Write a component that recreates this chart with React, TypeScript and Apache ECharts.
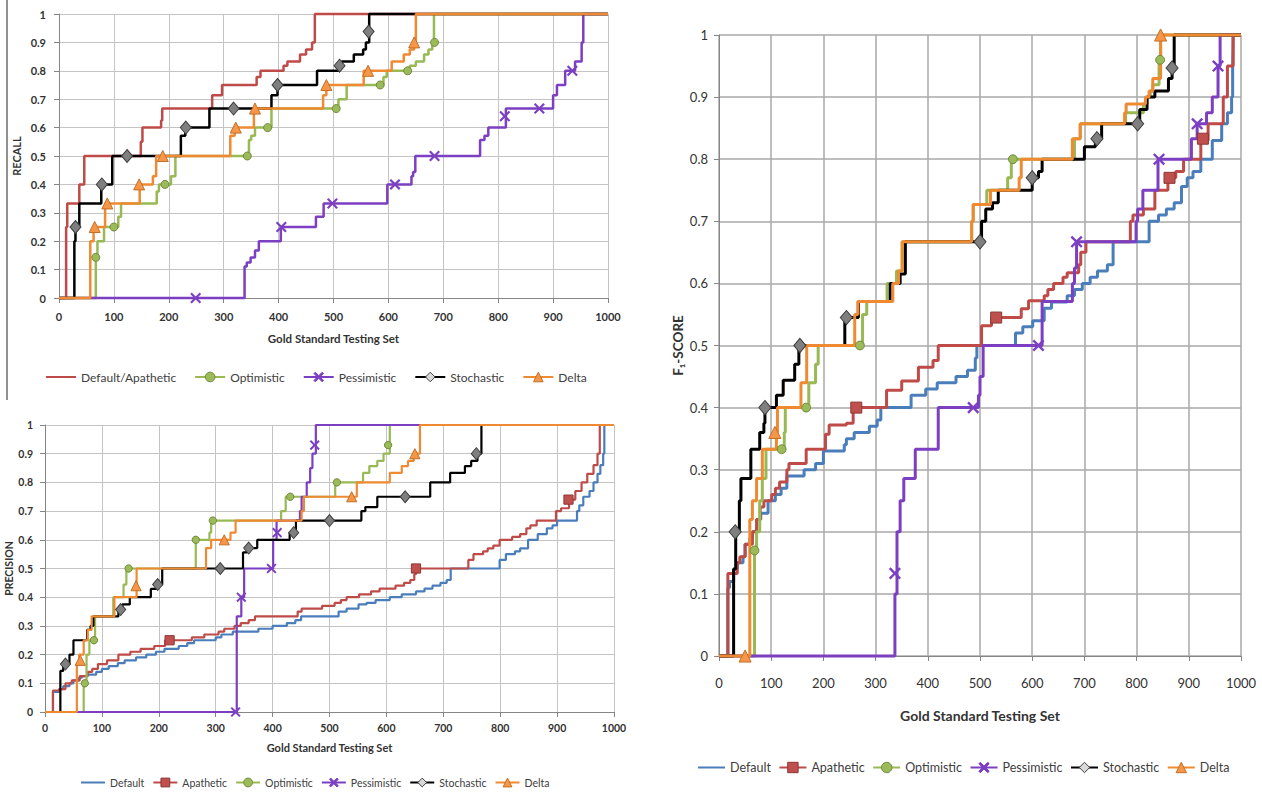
import React, { useEffect, useRef } from "react";
import * as echarts from "echarts";

type Pt = [number, number];

// ---- axes ----
const X_MIN = 0;
const X_MAX = 1000;
const X_STEP = 100;
const Y_MIN = 0;
const Y_MAX = 1;
const Y_STEP = 0.1;

const xAxisTitle = "Gold Standard Testing Set";
const recallTitle = "RECALL";
const precisionTitle = "PRECISION";
const f1Title = "F\u2081-SCORE";

const recallLegend = ["Default/Apathetic", "Optimistic", "Pessimistic", "Stochastic", "Delta"];
const fullLegend = ["Default", "Apathetic", "Optimistic", "Pessimistic", "Stochastic", "Delta"];

// ---- RECALL ----
const recallDefaultApathetic: Pt[] = [[0,0],[13,0.25],[15,0.333],[37,0.4],[46,0.5],[149,0.55],[152,0.6],[186,0.625],[188,0.667],[279,0.714],[297,0.75],[360,0.778],[367,0.8],[409,0.818],[416,0.833],[439,0.857],[450,0.875],[461,0.9],[466,1],[1000,1]];
const recallOptimistic: Pt[] = [[0,0],[67,0.143],[70,0.2],[82,0.25],[108,0.286],[113,0.333],[178,0.375],[182,0.4],[204,0.429],[212,0.5],[346,0.556],[350,0.571],[357,0.6],[387,0.667],[509,0.7],[524,0.75],[591,0.778],[597,0.8],[639,0.818],[650,0.833],[665,0.857],[673,0.875],[680,0.9],[683,1],[1000,1]];
const recallOptimisticMarks: Pt[] = [[67,0.143],[100,0.25],[193,0.4],[343,0.5],[380,0.6],[505,0.667],[585,0.75],[635,0.8],[684,0.9]];
const recallPessimistic: Pt[] = [[0,0],[338,0.111],[342,0.125],[349,0.143],[357,0.167],[364,0.2],[404,0.25],[468,0.286],[482,0.333],[598,0.4],[642,0.429],[645,0.444],[649,0.5],[767,0.556],[775,0.571],[782,0.6],[814,0.667],[900,0.714],[907,0.75],[922,0.8],[940,0.833],[952,0.9],[955,1],[1000,1]];
const recallPessimisticMarks: Pt[] = [[249,0],[405,0.25],[498,0.333],[612,0.4],[684,0.5],[812,0.64],[875,0.667],[935,0.8]];
const recallStochastic: Pt[] = [[0,0],[28,0.2],[30,0.25],[37,0.333],[77,0.4],[97,0.5],[222,0.571],[230,0.6],[274,0.667],[387,0.714],[398,0.75],[470,0.8],[510,0.818],[515,0.833],[537,0.857],[554,0.875],[559,0.9],[565,1],[1000,1]];
const recallStochasticMarks: Pt[] = [[30,0.25],[78,0.4],[124,0.5],[231,0.6],[318,0.667],[398,0.75],[511,0.818],[564,0.938]];
const recallDelta: Pt[] = [[0,0],[57,0.2],[63,0.25],[84,0.333],[147,0.4],[171,0.429],[177,0.5],[312,0.571],[320,0.6],[355,0.667],[481,0.714],[487,0.75],[555,0.8],[606,0.833],[628,0.857],[639,0.875],[647,0.9],[650,1],[1000,1]];
const recallDeltaMarks: Pt[] = [[65,0.25],[88,0.333],[146,0.4],[189,0.5],[322,0.6],[357,0.667],[487,0.75],[563,0.8],[647,0.9]];

// ---- PRECISION ----
const precisionDefault: Pt[] = [[0,0],[14,0.07],[25,0.08],[32,0.09],[43,0.1],[50,0.11],[60,0.12],[65,0.125],[75,0.13],[90,0.14],[100,0.15],[112,0.16],[128,0.17],[140,0.18],[160,0.19],[178,0.2],[195,0.21],[210,0.22],[235,0.23],[250,0.24],[262,0.25],[300,0.26],[310,0.27],[330,0.28],[375,0.29],[400,0.3],[425,0.31],[440,0.32],[450,0.333],[516,0.35],[530,0.36],[551,0.375],[565,0.38],[581,0.39],[606,0.4],[627,0.41],[652,0.42],[667,0.43],[681,0.44],[695,0.45],[706,0.46],[713,0.5],[799,0.53],[810,0.55],[826,0.56],[835,0.57],[849,0.6],[866,0.62],[882,0.64],[892,0.65],[900,0.667],[935,0.7],[939,0.72],[946,0.75],[957,0.77],[964,0.8],[971,0.83],[976,0.86],[981,0.9],[983,1],[1000,1]];
const precisionApathetic: Pt[] = [[0,0],[14,0.075],[25,0.08],[36,0.1],[47,0.11],[61,0.125],[75,0.14],[83,0.15],[93,0.167],[109,0.18],[129,0.2],[150,0.21],[168,0.22],[192,0.23],[211,0.25],[258,0.26],[280,0.27],[305,0.28],[315,0.29],[333,0.3],[344,0.31],[358,0.32],[369,0.333],[444,0.35],[451,0.36],[487,0.37],[509,0.38],[520,0.39],[530,0.4],[552,0.41],[573,0.42],[588,0.43],[616,0.44],[631,0.45],[642,0.46],[649,0.48],[652,0.5],[744,0.53],[753,0.55],[770,0.56],[778,0.57],[788,0.58],[799,0.6],[821,0.61],[835,0.62],[846,0.64],[853,0.65],[864,0.667],[898,0.7],[907,0.71],[921,0.74],[932,0.77],[943,0.8],[953,0.83],[964,0.86],[971,0.9],[975,1],[1000,1]];
const precisionApatheticMarks: Pt[] = [[219,0.25],[652,0.5],[920,0.74]];
const precisionOptimistic: Pt[] = [[0,0],[68,0.1],[73,0.2],[78,0.25],[88,0.333],[120,0.4],[138,0.444],[143,0.5],[265,0.6],[289,0.625],[292,0.667],[415,0.7],[423,0.75],[510,0.8],[559,0.833],[570,0.857],[584,0.875],[595,0.9],[606,1],[1000,1]];
const precisionOptimisticMarks: Pt[] = [[70,0.1],[86,0.25],[147,0.5],[265,0.6],[295,0.667],[431,0.75],[513,0.8],[603,0.93]];
const precisionPessimistic: Pt[] = [[0,0],[337,0.333],[345,0.4],[350,0.5],[401,0.6],[407,0.667],[448,0.7],[451,0.75],[460,0.8],[466,0.85],[470,0.9],[476,1],[1000,1]];
const precisionPessimisticMarks: Pt[] = [[335,0],[345,0.4],[398,0.5],[408,0.625],[474,0.93]];
const precisionStochastic: Pt[] = [[0,0],[27,0.143],[32,0.167],[43,0.2],[50,0.25],[74,0.286],[80,0.3],[85,0.333],[129,0.357],[136,0.375],[149,0.4],[186,0.429],[197,0.444],[206,0.5],[348,0.556],[355,0.571],[373,0.6],[430,0.625],[441,0.667],[556,0.7],[563,0.714],[584,0.75],[677,0.8],[712,0.833],[738,0.857],[749,0.875],[760,0.9],[767,1],[1000,1]];
const precisionStochasticMarks: Pt[] = [[36,0.167],[133,0.357],[198,0.444],[308,0.5],[358,0.571],[437,0.625],[500,0.667],[633,0.75],[758,0.9]];
const precisionDelta: Pt[] = [[0,0],[56,0.167],[60,0.2],[68,0.25],[75,0.286],[82,0.333],[122,0.4],[161,0.5],[283,0.571],[292,0.6],[326,0.625],[335,0.667],[451,0.7],[455,0.75],[548,0.8],[606,0.833],[627,0.857],[638,0.875],[648,0.9],[659,1],[1000,1]];
const precisionDeltaMarks: Pt[] = [[62,0.18],[160,0.44],[315,0.6],[539,0.75],[650,0.9]];

// ---- F1-SCORE ----
const f1Default: Pt[] = [[0,0],[17,0.11],[20,0.12],[28,0.14],[35,0.15],[46,0.16],[50,0.18],[59,0.19],[64,0.2],[72,0.22],[80,0.23],[94,0.25],[108,0.26],[119,0.27],[130,0.29],[163,0.3],[185,0.31],[200,0.33],[240,0.34],[244,0.35],[259,0.36],[288,0.37],[303,0.38],[310,0.4],[368,0.42],[396,0.43],[418,0.44],[454,0.45],[476,0.46],[491,0.48],[494,0.5],[568,0.52],[582,0.53],[601,0.54],[623,0.56],[637,0.57],[667,0.58],[681,0.59],[696,0.6],[711,0.61],[725,0.62],[744,0.63],[755,0.667],[824,0.7],[842,0.71],[857,0.72],[872,0.73],[886,0.756],[897,0.77],[908,0.78],[923,0.8],[945,0.83],[963,0.857],[974,0.875],[982,0.9],[984,0.95],[985,1],[1000,1]];
const f1Apathetic: Pt[] = [[0,0],[17,0.133],[35,0.15],[40,0.16],[50,0.18],[64,0.2],[72,0.22],[79,0.24],[86,0.25],[101,0.26],[108,0.27],[116,0.28],[130,0.3],[134,0.31],[167,0.333],[204,0.357],[211,0.372],[244,0.375],[257,0.4],[321,0.428],[350,0.443],[382,0.465],[410,0.476],[420,0.5],[503,0.532],[522,0.545],[579,0.559],[593,0.572],[623,0.58],[630,0.59],[641,0.6],[659,0.61],[667,0.617],[689,0.63],[693,0.65],[703,0.667],[788,0.7],[793,0.71],[813,0.72],[835,0.75],[860,0.77],[875,0.78],[890,0.8],[923,0.83],[937,0.857],[966,0.9],[974,0.95],[985,1],[1000,1]];
const f1ApatheticMarks: Pt[] = [[263,0.4],[531,0.545],[863,0.77],[927,0.833]];
const f1Optimistic: Pt[] = [[0,0],[68,0.17],[72,0.2],[78,0.25],[83,0.286],[90,0.333],[125,0.36],[127,0.4],[172,0.44],[185,0.47],[190,0.5],[275,0.55],[283,0.571],[322,0.6],[340,0.62],[351,0.667],[484,0.7],[487,0.727],[513,0.75],[553,0.77],[560,0.8],[681,0.833],[692,0.857],[779,0.875],[813,0.889],[820,0.9],[826,0.91],[831,0.92],[843,0.96],[846,1],[1000,1]];
const f1OptimisticMarks: Pt[] = [[68,0.17],[120,0.333],[167,0.4],[270,0.5],[563,0.8],[845,0.96]];
const f1Pessimistic: Pt[] = [[0,0],[337,0.1],[341,0.2],[347,0.25],[354,0.286],[376,0.333],[420,0.4],[497,0.42],[500,0.45],[506,0.5],[619,0.571],[677,0.6],[681,0.625],[685,0.667],[799,0.7],[802,0.72],[812,0.75],[841,0.8],[905,0.833],[916,0.857],[934,0.875],[945,0.9],[956,0.95],[960,1],[1000,1]];
const f1PessimisticMarks: Pt[] = [[337,0.133],[487,0.4],[612,0.5],[685,0.667],[843,0.8],[916,0.857],[956,0.95]];
const f1Stochastic: Pt[] = [[0,0],[28,0.14],[32,0.2],[39,0.25],[42,0.286],[61,0.333],[78,0.36],[86,0.375],[88,0.4],[110,0.42],[123,0.444],[145,0.47],[153,0.5],[241,0.545],[267,0.571],[328,0.6],[347,0.615],[357,0.667],[503,0.7],[511,0.72],[524,0.73],[535,0.75],[600,0.77],[612,0.78],[619,0.8],[700,0.82],[721,0.833],[733,0.857],[806,0.88],[820,0.9],[835,0.91],[861,0.93],[868,0.95],[872,1],[1000,1]];
const f1StochasticMarks: Pt[] = [[31,0.2],[88,0.4],[155,0.5],[244,0.545],[500,0.667],[600,0.77],[724,0.833],[802,0.857],[868,0.947]];
const f1Delta: Pt[] = [[0,0],[59,0.22],[64,0.25],[72,0.286],[83,0.333],[110,0.36],[112,0.4],[157,0.44],[168,0.5],[260,0.55],[266,0.571],[333,0.6],[344,0.62],[351,0.667],[484,0.7],[487,0.727],[520,0.75],[575,0.77],[579,0.8],[677,0.833],[692,0.857],[777,0.875],[780,0.889],[817,0.9],[824,0.91],[831,0.93],[846,1],[1000,1]];
const f1DeltaMarks: Pt[] = [[50,0],[107,0.36],[846,1]];

// ---- styles ----
const X_MARK =
  "path://M1.4,0L5,3.6L8.6,0L10,1.4L6.4,5L10,8.6L8.6,10L5,6.4L1.4,10L0,8.6L3.6,5L0,1.4Z";

type Sty = { color: string; symbol: string; fill: string; border: string; size: number | number[] };
const STYLE: Record<string, Sty> = {
  "Default/Apathetic": { color: "#BE4B48", symbol: "none", fill: "#BE4B48", border: "#BE4B48", size: 0 },
  Default: { color: "#4A7EBB", symbol: "none", fill: "#4A7EBB", border: "#4A7EBB", size: 0 },
  Apathetic: { color: "#BE4B48", symbol: "rect", fill: "#C0504D", border: "#8C3836", size: 10 },
  Optimistic: { color: "#98B954", symbol: "circle", fill: "#9BBB59", border: "#71893F", size: 8 },
  Pessimistic: { color: "#7D3FC2", symbol: X_MARK, fill: "#7D3FC2", border: "#7D3FC2", size: 11 },
  Stochastic: { color: "#000000", symbol: "diamond", fill: "#7F7F7F", border: "#3F3F3F", size: [11, 13] },
  Delta: { color: "#F08A32", symbol: "triangle", fill: "#F79646", border: "#C0702A", size: 11 },
};

type Line = [string, Pt[], Pt[]];

const panels: {
  grid: any; yName: string; yGap: number; xGap: number; lw: number; ms: number;
  fs: number; fw: string; nameFs: number; xMargin: number; yMargin: number; lines: Line[];
}[] = [
  {
    grid: { left: 59, top: 14, width: 549, height: 284 },
    yName: recallTitle, yGap: 37, xGap: 34, lw: 2.5, ms: 1, fs: 11, fw: "bold", nameFs: 11,
    xMargin: 13, yMargin: 13,
    lines: [
      ["Default/Apathetic", recallDefaultApathetic, []],
      ["Optimistic", recallOptimistic, recallOptimisticMarks],
      ["Pessimistic", recallPessimistic, recallPessimisticMarks],
      ["Stochastic", recallStochastic, recallStochasticMarks],
      ["Delta", recallDelta, recallDeltaMarks],
    ],
  },
  {
    grid: { left: 45, top: 425, width: 569, height: 287 },
    yName: precisionTitle, yGap: 30, xGap: 30, lw: 2.2, ms: 0.92, fs: 10.5, fw: "bold", nameFs: 10.5,
    xMargin: 10, yMargin: 12,
    lines: [
      ["Default", precisionDefault, []],
      ["Apathetic", precisionApathetic, precisionApatheticMarks],
      ["Optimistic", precisionOptimistic, precisionOptimisticMarks],
      ["Pessimistic", precisionPessimistic, precisionPessimisticMarks],
      ["Stochastic", precisionStochastic, precisionStochasticMarks],
      ["Delta", precisionDelta, precisionDeltaMarks],
    ],
  },
  {
    grid: { left: 719, top: 35, width: 522, height: 621 },
    yName: f1Title, yGap: 34, xGap: 52, lw: 3, ms: 1.1, fs: 13, fw: "normal", nameFs: 13.5,
    xMargin: 20, yMargin: 11,
    lines: [
      ["Default", f1Default, []],
      ["Apathetic", f1Apathetic, f1ApatheticMarks],
      ["Optimistic", f1Optimistic, f1OptimisticMarks],
      ["Pessimistic", f1Pessimistic, f1PessimisticMarks],
      ["Stochastic", f1Stochastic, f1StochasticMarks],
      ["Delta", f1Delta, f1DeltaMarks],
    ],
  },
];

const FONT = "Lato, 'Liberation Sans', sans-serif";

function legendItem(name: string) {
  const s = STYLE[name];
  if (s.symbol === "none") {
    return { name, itemStyle: { opacity: 0 } };
  }
  return { name, itemStyle: { color: name === "Stochastic" ? "#D9D9D9" : s.fill, borderColor: s.border, borderWidth: 1 } };
}

function buildOption(): any {
  const grids: any[] = [];
  const xAxes: any[] = [];
  const yAxes: any[] = [];
  const lineSeries: any[] = [];
  const markSeries: any[] = [];

  panels.forEach((p, i) => {
    grids.push(p.grid);
    const split = { show: true, lineStyle: { color: i === 2 ? "#A8A8A8" : "#C4C4C4", width: i === 2 ? 1.5 : 1 } };
    xAxes.push({
      type: "value", gridIndex: i, min: X_MIN, max: X_MAX, interval: X_STEP,
      name: xAxisTitle, nameLocation: "middle", nameGap: p.xGap,
      nameTextStyle: { fontFamily: FONT, fontSize: p.nameFs + 0.5, fontWeight: "bold", color: "#333" },
      axisLine: { show: true, lineStyle: { color: "#868686", width: 1 } },
      axisTick: { show: true, inside: false, length: 5, lineStyle: { color: "#868686" } },
      axisLabel: {
        margin: p.xMargin, fontFamily: FONT, fontSize: p.fs, fontWeight: p.fw, color: "#333",
        formatter: (v: number) => String(v),
      },
      splitLine: split,
    });
    yAxes.push({
      type: "value", gridIndex: i, min: Y_MIN, max: Y_MAX, interval: Y_STEP,
      name: p.yName, nameLocation: "middle", nameGap: p.yGap, nameRotate: 90,
      nameTextStyle: { fontFamily: FONT, fontSize: p.nameFs, fontWeight: "bold", color: "#333" },
      axisLine: { show: true, lineStyle: { color: "#868686", width: 1 } },
      axisTick: { show: true, inside: false, length: 5, lineStyle: { color: "#868686" } },
      axisLabel: {
        margin: p.yMargin, fontFamily: FONT, fontSize: p.fs, fontWeight: p.fw, color: "#333",
        formatter: (v: number) => String(Math.round(v * 10) / 10),
      },
      splitLine: split,
    });
    p.lines.forEach(([name, pts, marks], k) => {
      const s = STYLE[name];
      lineSeries.push({
        type: "line", name, xAxisIndex: i, yAxisIndex: i, data: pts, step: "end",
        showSymbol: false, symbol: s.symbol, color: s.color, clip: false,
        lineStyle: { color: s.color, width: p.lw }, z: 2 + k * 0.01,
        emphasis: { disabled: true },
      });
      if (marks.length) {
        const size = Array.isArray(s.size) ? s.size.map((v) => v * p.ms) : (s.size as number) * p.ms;
        markSeries.push({
          type: "scatter", name, xAxisIndex: i, yAxisIndex: i, data: marks,
          symbol: s.symbol, symbolSize: size, clip: false, z: 5,
          itemStyle: { color: s.fill, borderColor: s.border, borderWidth: s.symbol === X_MARK ? 0 : 1, opacity: 1 },
          emphasis: { disabled: true },
        });
      }
    });
  });

  return {
    animation: false,
    backgroundColor: "#ffffff",
    textStyle: { fontFamily: FONT },
    grid: grids,
    xAxis: xAxes,
    yAxis: yAxes,
    legend: [
      {
        data: recallLegend.map(legendItem), left: 45, top: 371, padding: 0, width: 620,
        itemWidth: 30, itemHeight: 12, itemGap: 18, selectedMode: false,
        textStyle: { fontFamily: FONT, fontSize: 12, color: "#404040" },
      },
      {
        data: fullLegend.map(legendItem), left: 80, top: 777, padding: 0, width: 620,
        itemWidth: 24, itemHeight: 11, itemGap: 8, selectedMode: false,
        textStyle: { fontFamily: FONT, fontSize: 10.5, color: "#404040" },
      },
      {
        data: fullLegend.map(legendItem), left: 697, top: 761, padding: 0, width: 600,
        itemWidth: 27, itemHeight: 13, itemGap: 7.5, selectedMode: false,
        textStyle: { fontFamily: FONT, fontSize: 12.5, color: "#404040" },
      },
    ],
    graphic: [
      { type: "line", shape: { x1: 7, y1: 0, x2: 7, y2: 400 }, style: { stroke: "#6b6b6b", lineWidth: 1.5 } },
    ],
    series: [...lineSeries, ...markSeries],
  };
}

export default function App() {
  const ref = useRef<HTMLDivElement>(null);
  useEffect(() => {
    if (!ref.current) return;
    const chart = echarts.init(ref.current, undefined, { renderer: "svg" });
    chart.setOption(buildOption());
    return () => chart.dispose();
  }, []);
  return (
    <div
      ref={ref}
      style={{ position: "fixed", left: 0, top: 0, width: 1262, height: 793, background: "#fff" }}
    />
  );
}
